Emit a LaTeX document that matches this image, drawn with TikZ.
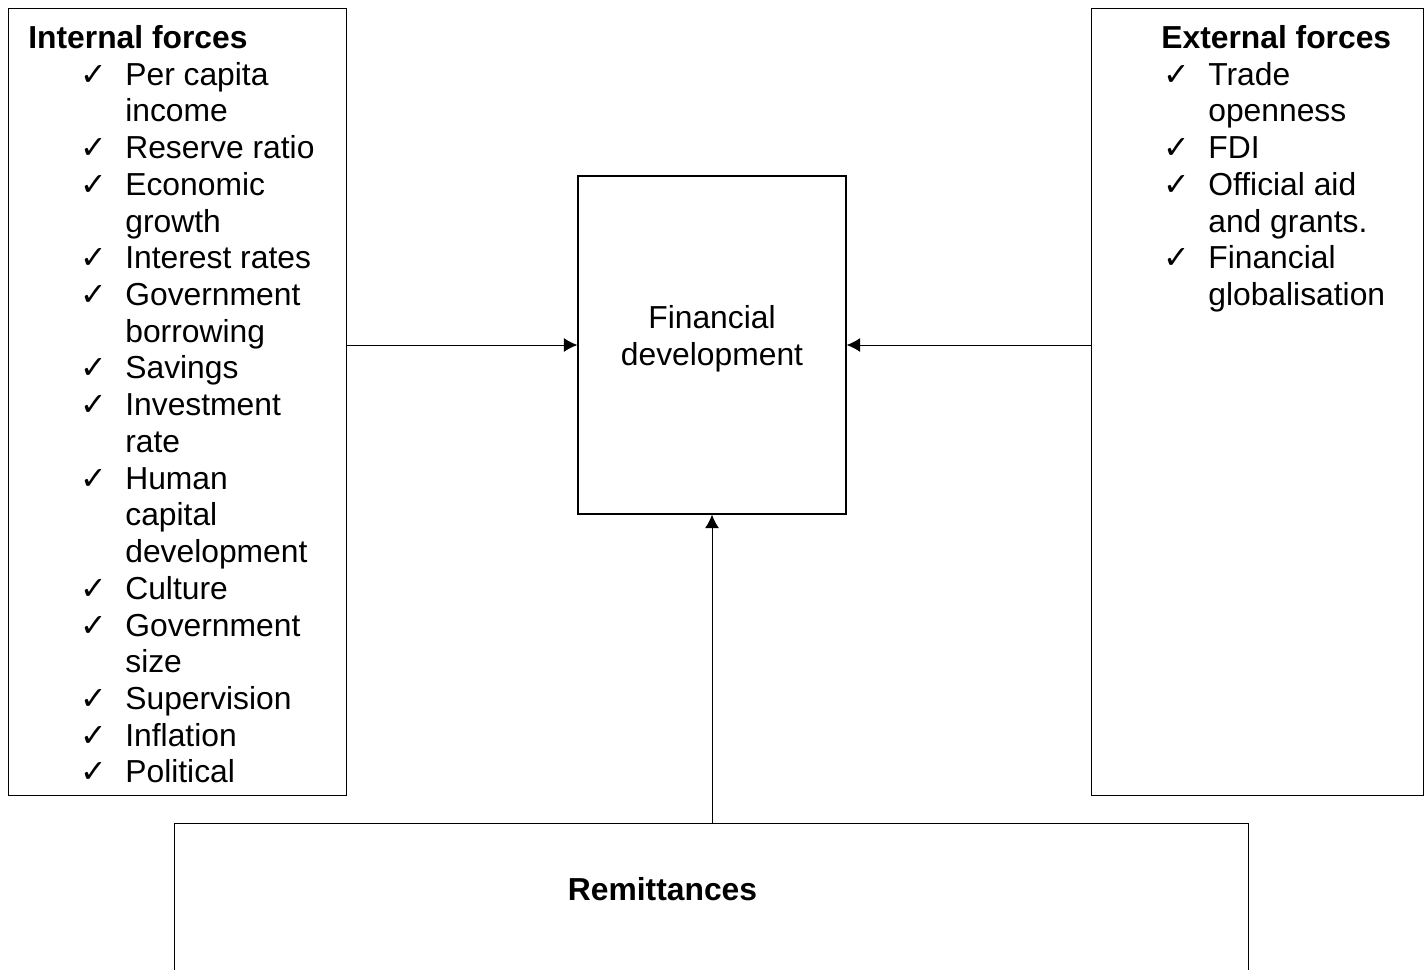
\documentclass[tikz,border=0pt]{standalone}
\usepackage{fontspec}
\setmainfont{Liberation Sans}
\newfontfamily\tickfont{DejaVu Sans}
\usepackage{tikz}
\usetikzlibrary{positioning,arrows.meta}

\newcommand{\chk}{\hspace*{1.04cm}\makebox[0.9cm][l]{\tickfont ✓}}  % left list tick
\newcommand{\ind}{\hspace*{1.94cm}}  % left list wrap
\newcommand{\rchk}{\hspace*{0.04cm}\makebox[0.9cm][l]{\tickfont ✓}}  % right list tick
\newcommand{\rind}{\hspace*{0.94cm}}  % right list wrap

\begin{document}
\begin{tikzpicture}[
    box/.style={draw, line width=0.8pt, inner sep=0pt},
    txt/.style={font=\fontsize{18.1}{20.9}\selectfont, inner sep=0pt},
    link/.style={-{Latex[length=0.27cm, width=0.28cm]}, line width=0.5pt}
  ]
  \useasboundingbox (0,0) rectangle (28.54,-19.4);
  \clip (0,0) rectangle (28.54,-19.4);
  \node[box, anchor=north west, minimum width=6.76cm, minimum height=15.74cm] (Internal) at (0.16,-0.16) {};  % Left box
  \node[box, anchor=north west, minimum width=6.64cm, minimum height=15.74cm] (External) at (21.82,-0.16) {};  % Right box
  \node[box, minimum width=5.36cm, minimum height=6.76cm] (Findev) at (14.24,-6.9) {};  % Centre box
  \node[box, anchor=north west, minimum width=21.48cm, minimum height=3.6cm] (Remit) at (3.48,-16.46) {};  % Bottom box
  \node[txt, align=center] (Findev-text) at (14.24,-6.77) {Financial\\development};
  \node[txt, anchor=base, font=\fontsize{18.1}{20.9}\selectfont\bfseries] (Remit-text) at (13.25,-18.01) {Remittances};
  \node[txt, align=left, anchor=north west] (Internal-list) at (0.56,-0.5) {%
    \textbf{Internal forces}\\
    \chk Per capita\\
    \ind income\\
    \chk Reserve ratio\\
    \chk Economic\\
    \ind growth\\
    \chk Interest rates\\
    \chk Government\\
    \ind borrowing\\
    \chk Savings\\
    \chk Investment\\
    \ind rate\\
    \chk Human\\
    \ind capital\\
    \ind development\\
    \chk Culture\\
    \chk Government\\
    \ind size\\
    \chk Supervision\\
    \chk Inflation\\
    \chk Political};
  \node[txt, align=left, anchor=north west] (External-list) at (23.22,-0.5) {%
    \textbf{External forces}\\
    \rchk Trade\\
    \rind openness\\
    \rchk FDI\\
    \rchk Official aid\\
    \rind and grants.\\
    \rchk Financial\\
    \rind globalisation};
  \draw[link] (Internal.east |- Findev.west) -- (Findev.west);  % Internal to centre
  \draw[link] (External.west |- Findev.east) -- (Findev.east);  % External to centre
  \draw[link] (Remit.north -| Findev.south) -- (Findev.south);  % Remittances to centre
\end{tikzpicture}
\end{document}
